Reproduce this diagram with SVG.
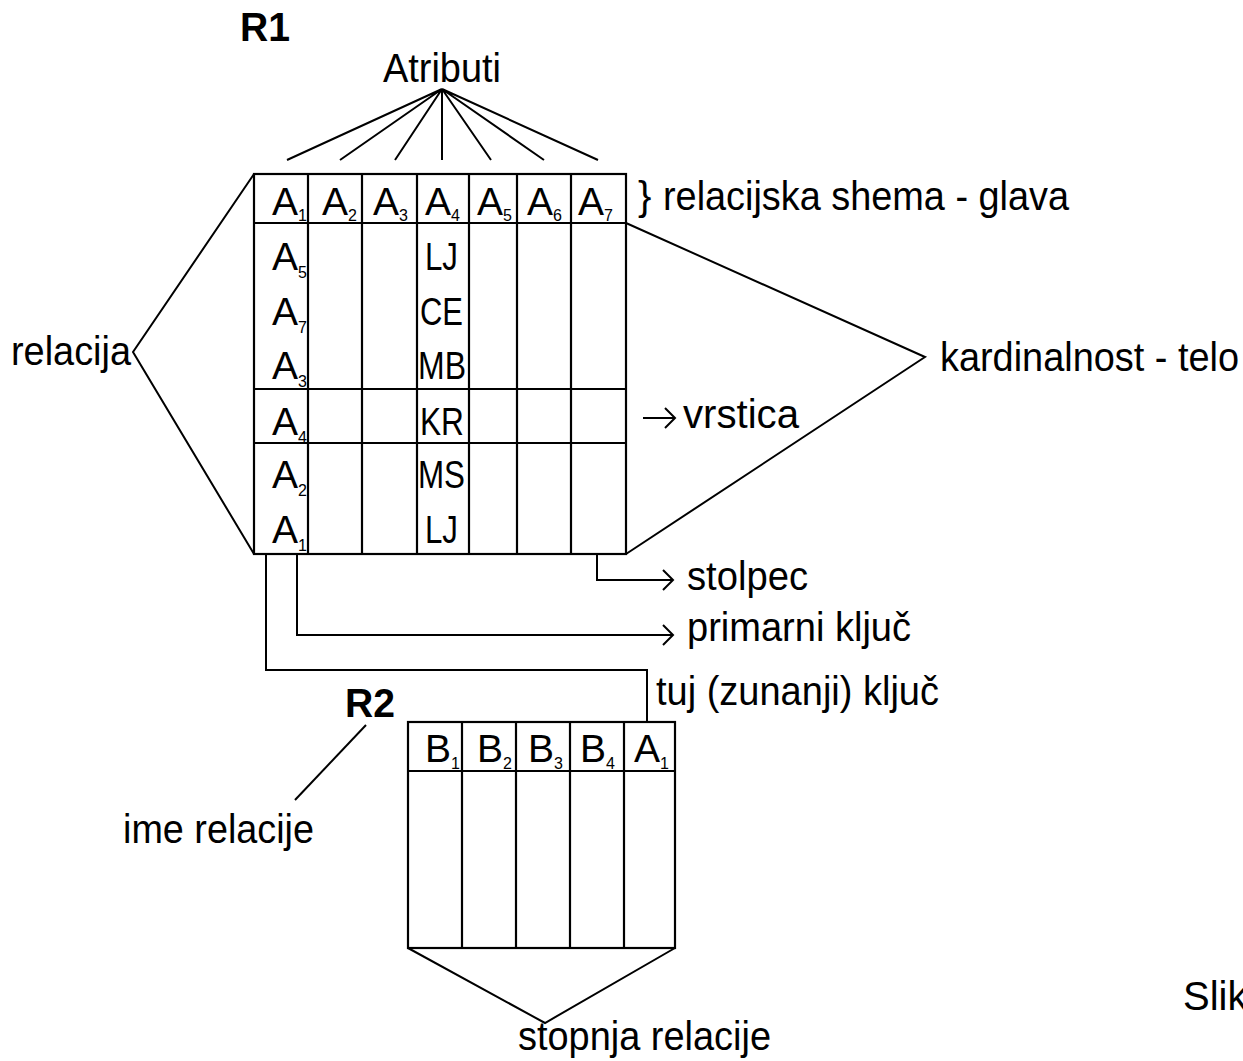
<svg xmlns="http://www.w3.org/2000/svg" width="1243" height="1061" viewBox="0 0 1243 1061">
  <style>
    text { font-family: "Liberation Sans", Arial, Helvetica, sans-serif; fill: #000; }
    .lbl { font-size: 40px; }
    .cell { font-size: 39px; }
    .val { font-size: 38px; }
    .sub { font-size: 16px; }
    .name { font-size: 40px; font-weight: bold; }
    .grid { fill: none; stroke: #000; stroke-width: 2.2; }
    .ln { fill: none; stroke: #000; stroke-width: 2; }
  </style>
  <defs>
    <marker id="arr" markerUnits="userSpaceOnUse" markerWidth="14" markerHeight="24" refX="11" refY="11" orient="auto">
      <path d="M1,1 L11,11 L1,21" fill="none" stroke="#000" stroke-width="2"/>
    </marker>
  </defs>

  <rect width="1243" height="1061" fill="#fff"/>

  <!-- relation R1 -->
  <g id="r1">
    <text class="name" x="240" y="41" textLength="50" lengthAdjust="spacingAndGlyphs">R1</text>
    <g class="grid">
      <rect x="254" y="174" width="372" height="380"/>
      <path d="M254,223 H626 M254,389 H626 M254,443 H626"/>
      <path d="M308,174 V554 M362,174 V554 M417,174 V554 M469,174 V554 M517,174 V554 M571,174 V554"/>
    </g>
    <!-- header: attribute names -->
    <g id="r1-head">
      <text class="cell" x="272" y="215">A<tspan class="sub" dy="6">1</tspan></text>
      <text class="cell" x="322" y="215">A<tspan class="sub" dy="6">2</tspan></text>
      <text class="cell" x="373" y="215">A<tspan class="sub" dy="6">3</tspan></text>
      <text class="cell" x="425" y="215">A<tspan class="sub" dy="6">4</tspan></text>
      <text class="cell" x="477" y="215">A<tspan class="sub" dy="6">5</tspan></text>
      <text class="cell" x="527" y="215">A<tspan class="sub" dy="6">6</tspan></text>
      <text class="cell" x="578" y="215">A<tspan class="sub" dy="6">7</tspan></text>
    </g>
    <!-- body: tuples -->
    <g id="r1-body">
      <text class="cell" x="272" y="270">A<tspan class="sub" dy="8">5</tspan></text>
      <text class="cell" x="272" y="325">A<tspan class="sub" dy="8">7</tspan></text>
      <text class="cell" x="272" y="379">A<tspan class="sub" dy="8">3</tspan></text>
      <text class="cell" x="272" y="435">A<tspan class="sub" dy="8">4</tspan></text>
      <text class="cell" x="272" y="488">A<tspan class="sub" dy="8">2</tspan></text>
      <text class="cell" x="272" y="543">A<tspan class="sub" dy="8">1</tspan></text>
      <text class="val" x="425" y="270" textLength="33" lengthAdjust="spacingAndGlyphs">LJ</text>
      <text class="val" x="420" y="325" textLength="43" lengthAdjust="spacingAndGlyphs">CE</text>
      <text class="val" x="418" y="379" textLength="48" lengthAdjust="spacingAndGlyphs">MB</text>
      <text class="val" x="420" y="435" textLength="44" lengthAdjust="spacingAndGlyphs">KR</text>
      <text class="val" x="418" y="488" textLength="47" lengthAdjust="spacingAndGlyphs">MS</text>
      <text class="val" x="425" y="543" textLength="33" lengthAdjust="spacingAndGlyphs">LJ</text>
    </g>
  </g>

  <!-- relation R2 -->
  <g id="r2">
    <text class="name" x="345" y="717" textLength="50" lengthAdjust="spacingAndGlyphs">R2</text>
    <g class="grid">
      <rect x="408" y="722" width="267" height="226"/>
      <path d="M408,771 H675"/>
      <path d="M462,722 V948 M516,722 V948 M570,722 V948 M624,722 V948"/>
    </g>
    <text class="cell" x="425" y="762">B<tspan class="sub" dy="7">1</tspan></text>
    <text class="cell" x="477" y="762">B<tspan class="sub" dy="7">2</tspan></text>
    <text class="cell" x="528" y="762">B<tspan class="sub" dy="7">3</tspan></text>
    <text class="cell" x="580" y="762">B<tspan class="sub" dy="7">4</tspan></text>
    <text class="cell" x="634" y="762">A<tspan class="sub" dy="7">1</tspan></text>
  </g>

  <!-- annotation labels -->
  <g id="lbl-atributi"><text class="lbl" x="383" y="82" textLength="118" lengthAdjust="spacingAndGlyphs">Atributi</text></g>
  <g id="lbl-relacija"><text class="lbl" x="11" y="365" textLength="120" lengthAdjust="spacingAndGlyphs">relacija</text></g>
  <g id="lbl-shema">
    <text class="lbl" x="638" y="210">}</text>
    <text class="lbl" x="663" y="210" textLength="406" lengthAdjust="spacingAndGlyphs">relacijska shema - glava</text>
  </g>
  <g id="lbl-kardinalnost"><text class="lbl" x="940" y="371" textLength="299" lengthAdjust="spacingAndGlyphs">kardinalnost - telo</text></g>
  <g id="lbl-vrstica"><text class="lbl" x="683" y="428" textLength="116" lengthAdjust="spacingAndGlyphs">vrstica</text></g>
  <g id="lbl-stolpec"><text class="lbl" x="687" y="590" textLength="121" lengthAdjust="spacingAndGlyphs">stolpec</text></g>
  <g id="lbl-primarni"><text class="lbl" x="687" y="641" textLength="224" lengthAdjust="spacingAndGlyphs">primarni ključ</text></g>
  <g id="lbl-tuj"><text class="lbl" x="656" y="705" textLength="283" lengthAdjust="spacingAndGlyphs">tuj (zunanji) ključ</text></g>
  <g id="lbl-ime"><text class="lbl" x="123" y="843" textLength="191" lengthAdjust="spacingAndGlyphs">ime relacije</text></g>
  <g id="lbl-stopnja"><text class="lbl" x="518" y="1050" textLength="253" lengthAdjust="spacingAndGlyphs">stopnja relacije</text></g>
  <g id="lbl-slika"><text class="lbl" x="1183" y="1010">Slik</text></g>

  <!-- connectors -->
  <g id="connectors" class="ln">
    <path d="M442,89 L287,160 M442,89 L340,160 M442,89 L395,160 M442,89 L442,160 M442,89 L491,160 M442,89 L544,160 M442,89 L598,160"/>
    <polyline points="254,174 133,352 254,554"/>
    <polyline points="626,223 925,357 626,554"/>
    <path d="M643,418 H675" marker-end="url(#arr)"/>
    <path d="M597,554 V580 H673" marker-end="url(#arr)"/>
    <path d="M297,554 V635 H673" marker-end="url(#arr)"/>
    <path d="M266,554 V670 H647 V722"/>
    <path d="M366,725 L295,800"/>
    <polyline points="408,948 545,1023 675,948"/>
  </g>
</svg>
